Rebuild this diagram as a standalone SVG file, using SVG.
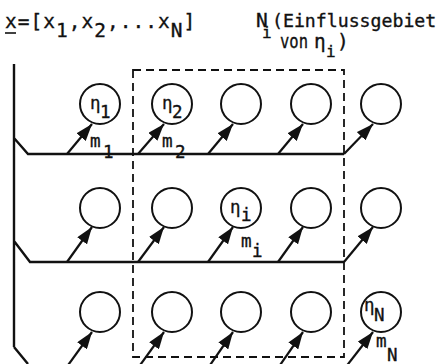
<svg xmlns="http://www.w3.org/2000/svg" width="441" height="364" viewBox="0 0 441 364">
<style>
text{font-family:"DejaVu Sans Mono","Liberation Mono",monospace;fill:#111;stroke:#111;stroke-width:0.35}
.t{font-size:19.5px}
.s{font-size:16px}
.c{font-size:17.5px}
.node circle{fill:none;stroke:#111;stroke-width:2}
.bus{fill:none;stroke:#111;stroke-width:2.4}
.arr{stroke:#111;stroke-width:2.2;marker-end:url(#ah)}
.box{fill:none;stroke:#111;stroke-width:1.8;stroke-dasharray:8 5}
</style>
<defs>
<marker id="ah" markerUnits="userSpaceOnUse" markerWidth="18" markerHeight="12" refX="17" refY="6" orient="auto">
<path d="M0,0 L17,6 L0,12 z" fill="#111"/>
</marker>
</defs>
<rect width="441" height="364" fill="#fff"/>
<g id="title-x">
<text class="t" x="5" y="28" letter-spacing="1">x=[x<tspan dy="9">1</tspan><tspan dy="-9">,x</tspan><tspan dy="9">2</tspan><tspan dy="-9">,...x</tspan><tspan dy="9">N</tspan><tspan dy="-9">]</tspan></text>
<line x1="5" y1="33" x2="16" y2="33" stroke="#111" stroke-width="1.6"/>
</g>
<g id="title-N">
<text class="t" x="256" y="27">N</text>
<text class="s" x="262" y="38">i</text>
<text x="272" y="27" style="font-size:18.2px">(Einflussgebiet</text>
<text class="t" x="280" y="48" textLength="28" lengthAdjust="spacingAndGlyphs">von</text>
<text class="t" x="314" y="48">η</text>
<text class="s" x="326" y="57">i</text>
<text class="t" x="337" y="48">)</text>
</g>
<g id="influence-region">
<rect class="box" x="133" y="70" width="211" height="287"/>
</g>
<g id="connectors">
<path class="bus" d="M14,64 V347 M14,138 L28,154 H344 M14,241 L30,262 H344 M14,347 L28,364"/>
<line class="arr" x1="67" y1="154" x2="92" y2="124"/>
<line class="arr" x1="138" y1="154" x2="164" y2="124"/>
<line class="arr" x1="208" y1="154" x2="233" y2="124"/>
<line class="arr" x1="278" y1="154" x2="303" y2="124"/>
<line class="arr" x1="344" y1="154" x2="373" y2="124"/>
<line class="arr" x1="67" y1="262" x2="92" y2="227"/>
<line class="arr" x1="138" y1="262" x2="164" y2="227"/>
<line class="arr" x1="208" y1="262" x2="233" y2="227"/>
<line class="arr" x1="278" y1="262" x2="303" y2="227"/>
<line class="arr" x1="344" y1="262" x2="373" y2="227"/>
<line class="arr" x1="66" y1="368" x2="92" y2="332"/>
<line class="arr" x1="138" y1="368" x2="164" y2="332"/>
<line class="arr" x1="208" y1="368" x2="233" y2="332"/>
<line class="arr" x1="278" y1="368" x2="303" y2="332"/>
<line class="arr" x1="345" y1="368" x2="373" y2="332"/>
</g>
<g id="n1" class="node"><circle cx="100" cy="104" r="20"/><text class="c" x="90" y="109">η</text><text class="c" x="100" y="118">1</text><text class="c" x="90" y="147">m</text><text class="c" x="103" y="158">1</text></g>
<g id="n2" class="node"><circle cx="172" cy="104" r="20"/><text class="c" x="162" y="109">η</text><text class="c" x="172" y="118">2</text><text class="c" x="162" y="147">m</text><text class="c" x="175" y="158">2</text></g>
<g id="n3" class="node"><circle cx="241" cy="104" r="20"/></g>
<g id="n4" class="node"><circle cx="311" cy="104" r="20"/></g>
<g id="n5" class="node"><circle cx="381" cy="104" r="20"/></g>
<g id="n6" class="node"><circle cx="100" cy="208" r="20"/></g>
<g id="n7" class="node"><circle cx="172" cy="208" r="20"/></g>
<g id="ni" class="node"><circle cx="241" cy="208" r="20"/><text class="c" x="230" y="213">η</text><text class="c" x="241" y="221">i</text><text class="c" x="241" y="247">m</text><text class="c" x="252" y="257">i</text></g>
<g id="n9" class="node"><circle cx="311" cy="208" r="20"/></g>
<g id="n10" class="node"><circle cx="381" cy="208" r="20"/></g>
<g id="n11" class="node"><circle cx="100" cy="312" r="20"/></g>
<g id="n12" class="node"><circle cx="172" cy="312" r="20"/></g>
<g id="n13" class="node"><circle cx="241" cy="312" r="20"/></g>
<g id="n14" class="node"><circle cx="311" cy="312" r="20"/></g>
<g id="nN" class="node"><circle cx="381" cy="312" r="20"/><text class="c" x="364" y="311">η</text><text class="c" x="374" y="321">N</text><text class="c" x="376" y="347">m</text><text class="c" x="387" y="361">N</text></g>
</svg>
